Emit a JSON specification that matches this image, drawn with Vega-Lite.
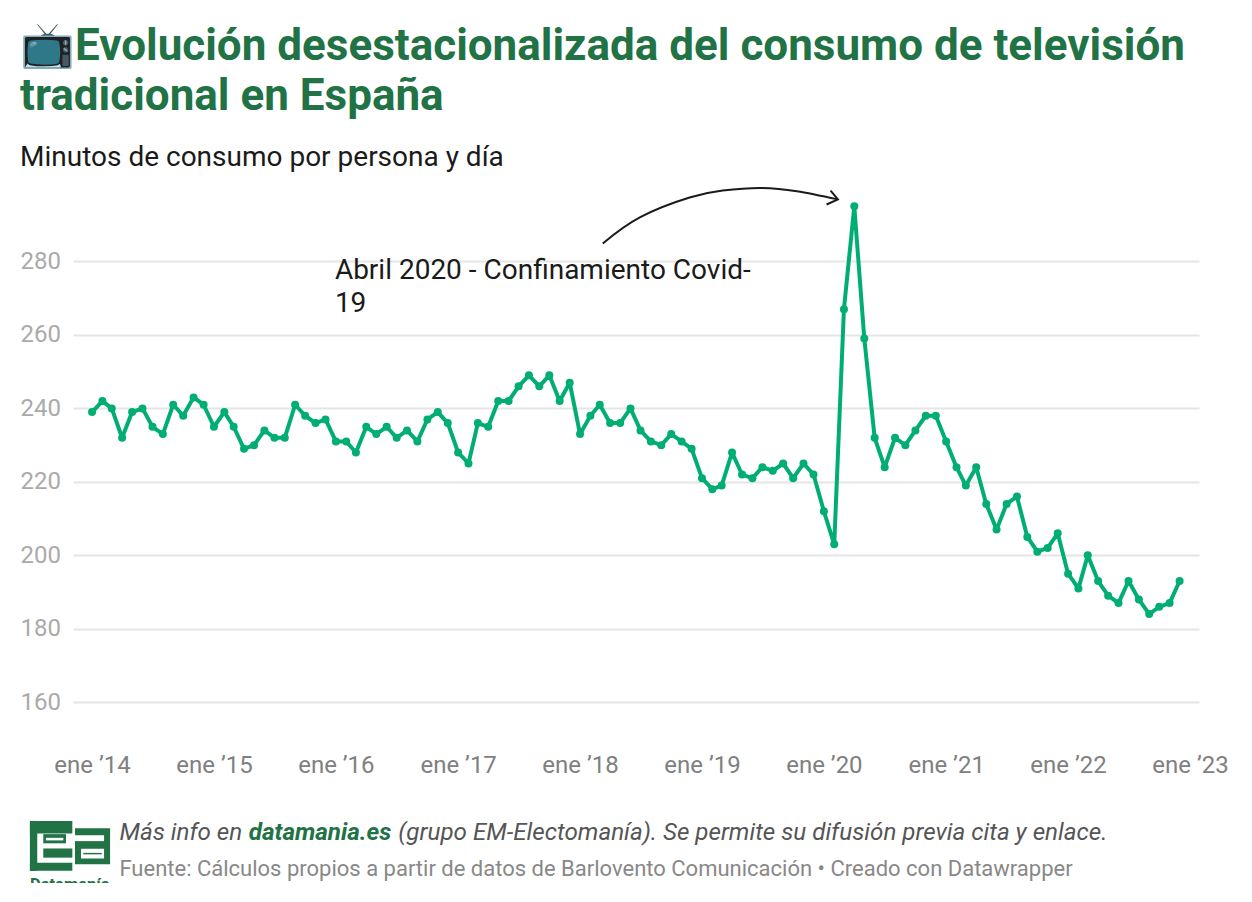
{
  "$schema": "https://vega.github.io/schema/vega-lite/v6.json",
  "width": 1126,
  "height": 551,
  "padding": {"left": 20, "top": 24, "right": 20, "bottom": 0},
  "background": "white",
  "title": {
    "text": ["📺Evolución desestacionalizada del consumo de televisión", "tradicional en España"],
    "subtitle": "Minutos de consumo por persona y día",
    "anchor": "start",
    "frame": "bounds",
    "font": "Roboto",
    "fontSize": 44,
    "fontWeight": 700,
    "color": "#217346",
    "lineHeight": 50,
    "subtitleFont": "Roboto",
    "subtitleFontSize": 28,
    "subtitleColor": "#1a1a1a",
    "subtitlePadding": 25,
    "offset": 12
  },
  "datasets": {
    "tv": [
      {"date": "2014-01-01", "min": 239}, {"date": "2014-02-01", "min": 242}, {"date": "2014-03-01", "min": 240}, {"date": "2014-04-01", "min": 232},
      {"date": "2014-05-01", "min": 239}, {"date": "2014-06-01", "min": 240}, {"date": "2014-07-01", "min": 235}, {"date": "2014-08-01", "min": 233},
      {"date": "2014-09-01", "min": 241}, {"date": "2014-10-01", "min": 238}, {"date": "2014-11-01", "min": 243}, {"date": "2014-12-01", "min": 241},
      {"date": "2015-01-01", "min": 235}, {"date": "2015-02-01", "min": 239}, {"date": "2015-03-01", "min": 235}, {"date": "2015-04-01", "min": 229},
      {"date": "2015-05-01", "min": 230}, {"date": "2015-06-01", "min": 234}, {"date": "2015-07-01", "min": 232}, {"date": "2015-08-01", "min": 232},
      {"date": "2015-09-01", "min": 241}, {"date": "2015-10-01", "min": 238}, {"date": "2015-11-01", "min": 236}, {"date": "2015-12-01", "min": 237},
      {"date": "2016-01-01", "min": 231}, {"date": "2016-02-01", "min": 231}, {"date": "2016-03-01", "min": 228}, {"date": "2016-04-01", "min": 235},
      {"date": "2016-05-01", "min": 233}, {"date": "2016-06-01", "min": 235}, {"date": "2016-07-01", "min": 232}, {"date": "2016-08-01", "min": 234},
      {"date": "2016-09-01", "min": 231}, {"date": "2016-10-01", "min": 237}, {"date": "2016-11-01", "min": 239}, {"date": "2016-12-01", "min": 236},
      {"date": "2017-01-01", "min": 228}, {"date": "2017-02-01", "min": 225}, {"date": "2017-03-01", "min": 236}, {"date": "2017-04-01", "min": 235},
      {"date": "2017-05-01", "min": 242}, {"date": "2017-06-01", "min": 242}, {"date": "2017-07-01", "min": 246}, {"date": "2017-08-01", "min": 249},
      {"date": "2017-09-01", "min": 246}, {"date": "2017-10-01", "min": 249}, {"date": "2017-11-01", "min": 242}, {"date": "2017-12-01", "min": 247},
      {"date": "2018-01-01", "min": 233}, {"date": "2018-02-01", "min": 238}, {"date": "2018-03-01", "min": 241}, {"date": "2018-04-01", "min": 236},
      {"date": "2018-05-01", "min": 236}, {"date": "2018-06-01", "min": 240}, {"date": "2018-07-01", "min": 234}, {"date": "2018-08-01", "min": 231},
      {"date": "2018-09-01", "min": 230}, {"date": "2018-10-01", "min": 233}, {"date": "2018-11-01", "min": 231}, {"date": "2018-12-01", "min": 229},
      {"date": "2019-01-01", "min": 221}, {"date": "2019-02-01", "min": 218}, {"date": "2019-03-01", "min": 219}, {"date": "2019-04-01", "min": 228},
      {"date": "2019-05-01", "min": 222}, {"date": "2019-06-01", "min": 221}, {"date": "2019-07-01", "min": 224}, {"date": "2019-08-01", "min": 223},
      {"date": "2019-09-01", "min": 225}, {"date": "2019-10-01", "min": 221}, {"date": "2019-11-01", "min": 225}, {"date": "2019-12-01", "min": 222},
      {"date": "2020-01-01", "min": 212}, {"date": "2020-02-01", "min": 203}, {"date": "2020-03-01", "min": 267}, {"date": "2020-04-01", "min": 295},
      {"date": "2020-05-01", "min": 259}, {"date": "2020-06-01", "min": 232}, {"date": "2020-07-01", "min": 224}, {"date": "2020-08-01", "min": 232},
      {"date": "2020-09-01", "min": 230}, {"date": "2020-10-01", "min": 234}, {"date": "2020-11-01", "min": 238}, {"date": "2020-12-01", "min": 238},
      {"date": "2021-01-01", "min": 231}, {"date": "2021-02-01", "min": 224}, {"date": "2021-03-01", "min": 219}, {"date": "2021-04-01", "min": 224},
      {"date": "2021-05-01", "min": 214}, {"date": "2021-06-01", "min": 207}, {"date": "2021-07-01", "min": 214}, {"date": "2021-08-01", "min": 216},
      {"date": "2021-09-01", "min": 205}, {"date": "2021-10-01", "min": 201}, {"date": "2021-11-01", "min": 202}, {"date": "2021-12-01", "min": 206},
      {"date": "2022-01-01", "min": 195}, {"date": "2022-02-01", "min": 191}, {"date": "2022-03-01", "min": 200}, {"date": "2022-04-01", "min": 193},
      {"date": "2022-05-01", "min": 189}, {"date": "2022-06-01", "min": 187}, {"date": "2022-07-01", "min": 193}, {"date": "2022-08-01", "min": 188},
      {"date": "2022-09-01", "min": 184}, {"date": "2022-10-01", "min": 186}, {"date": "2022-11-01", "min": 187}, {"date": "2022-12-01", "min": 193}
    ],
    "arrow": [
      {"date": "2018-03-10", "min": 284.9}, {"date": "2018-06-29", "min": 292}, {"date": "2018-11-25", "min": 297.4}, {"date": "2019-03-04", "min": 299.3},
      {"date": "2019-06-23", "min": 300}, {"date": "2019-10-12", "min": 299.1}, {"date": "2020-02-12", "min": 296.9}
    ],
    "head": [
      {"n": 1, "date": "2020-01-21", "min": 299.3}, {"n": 2, "date": "2020-02-12", "min": 296.9}, {"n": 3, "date": "2020-01-09", "min": 295.5}
    ],
    "logo": [
      {"part": "verde", "date": "2013-06-29", "date2": "2013-11-03", "min": 127.7, "min2": 124.3},
      {"part": "verde", "date": "2013-06-29", "date2": "2013-07-21", "min": 127.7, "min2": 114.1},
      {"part": "verde", "date": "2013-06-29", "date2": "2013-11-03", "min": 116.3, "min2": 114.1},
      {"part": "verde", "date": "2013-08-08", "date2": "2013-11-03", "min": 120.2, "min2": 117.7},
      {"part": "verde", "date": "2013-08-08", "date2": "2013-10-15", "min": 124.1, "min2": 121.6},
      {"part": "blanco", "date": "2013-08-16", "date2": "2013-10-07", "min": 123.1, "min2": 122.4},
      {"part": "verde", "date": "2013-11-11", "date2": "2014-02-24", "min": 125.7, "min2": 115.9},
      {"part": "blanco", "date": "2013-11-11", "date2": "2014-02-06", "min": 123.8, "min2": 122.2},
      {"part": "blanco", "date": "2013-11-29", "date2": "2014-02-06", "min": 120.1, "min2": 117.5},
      {"part": "verde", "date": "2013-12-06", "date2": "2014-01-30", "min": 119, "min2": 118.6}
    ]
  },
  "data": {"name": "tv"},
  "encoding": {
    "x": {
      "field": "date",
      "type": "temporal",
      "title": null,
      "scale": {"type": "utc", "domain": ["2013-11-05", "2023-01-28"], "nice": false},
      "axis": {
        "tickCount": {"interval": "year", "step": 1},
        "labelExpr": "'ene ’' + utcFormat(datum.value, '%y')",
        "domain": false,
        "ticks": false,
        "grid": false,
        "labelFont": "Roboto",
        "labelFontSize": 24,
        "labelColor": "#808080",
        "labelPadding": 14,
        "labelOverlap": false,
        "labelFlush": false
      }
    },
    "y": {
      "field": "min",
      "type": "quantitative",
      "title": null,
      "scale": {"domain": [150, 300], "nice": false, "zero": false},
      "axis": {
        "values": [160, 180, 200, 220, 240, 260, 280],
        "domain": false,
        "ticks": false,
        "gridColor": "#e5e5e5",
        "gridWidth": 2,
        "labelFont": "Roboto",
        "labelFontSize": 24,
        "labelColor": "#aaaaaa",
        "labelAlign": "left",
        "labelPadding": 53
      }
    }
  },
  "layer": [
    {
      "mark": {"type": "line", "color": "#00ae73", "strokeWidth": 4, "strokeJoin": "round"}
    },
    {
      "mark": {"type": "circle", "color": "#00ae73", "size": 64, "opacity": 1}
    },
    {
      "data": {"name": "arrow"},
      "mark": {"type": "line", "color": "#1a1a1a", "strokeWidth": 2, "interpolate": "natural"}
    },
    {
      "data": {"name": "head"},
      "mark": {"type": "line", "color": "#1a1a1a", "strokeWidth": 2},
      "encoding": {"order": {"field": "n", "type": "ordinal"}}
    },
    {
      "data": {"values": [{"date": "2015-12-29", "min": 281.3, "label": "Abril 2020 - Confinamiento Covid-\n19"}]},
      "mark": {"type": "text", "font": "Roboto", "fontSize": 28, "color": "#1a1a1a", "align": "left", "baseline": "top", "lineBreak": "\n", "lineHeight": 33},
      "encoding": {"text": {"field": "label"}}
    },
    {
      "data": {"values": [
        {"date": "2014-03-24", "min": 124.4, "label": "Más info en"},
        {"date": "2016-07-06", "min": 124.4, "label": "(grupo EM-Electomanía). Se permite su difusión previa cita y enlace."}
      ]},
      "mark": {"type": "text", "font": "Roboto", "fontSize": 24.2, "fontStyle": "italic", "color": "#555555", "align": "left"},
      "encoding": {"text": {"field": "label"}}
    },
    {
      "data": {"values": [{"date": "2015-04-15", "min": 124.4, "label": "datamania.es"}]},
      "mark": {"type": "text", "font": "Roboto", "fontSize": 24.2, "fontStyle": "italic", "fontWeight": 700, "color": "#217346", "align": "left"},
      "encoding": {"text": {"field": "label"}}
    },
    {
      "data": {"values": [{"date": "2014-03-24", "min": 114.6, "label": "Fuente: Cálculos propios a partir de datos de Barlovento Comunicación • Creado con Datawrapper"}]},
      "mark": {"type": "text", "font": "Roboto", "fontSize": 22, "color": "#888888", "align": "left"},
      "encoding": {"text": {"field": "label"}}
    },
    {
      "data": {"name": "logo"},
      "mark": {"type": "rect"},
      "encoding": {
        "x2": {"field": "date2"},
        "y2": {"field": "min2"},
        "color": {"field": "part", "type": "nominal", "legend": null, "scale": {"domain": ["verde", "blanco"], "range": ["#217346", "#ffffff"]}}
      }
    },
    {
      "data": {"values": [{"date": "2013-06-29", "min": 109, "label": "Datamanía"}]},
      "mark": {"type": "text", "font": "Roboto", "fontSize": 16.5, "fontWeight": 700, "color": "#217346", "align": "left", "baseline": "alphabetic"},
      "encoding": {"text": {"field": "label"}}
    },
    {
      "data": {"values": [{"date": "2013-06-01", "date2": "2014-03-10", "min": 110.8, "min2": 106}]},
      "mark": {"type": "rect", "color": "#ffffff"},
      "encoding": {"x2": {"field": "date2"}, "y2": {"field": "min2"}}
    }
  ],
  "config": {"view": {"stroke": null}}
}
